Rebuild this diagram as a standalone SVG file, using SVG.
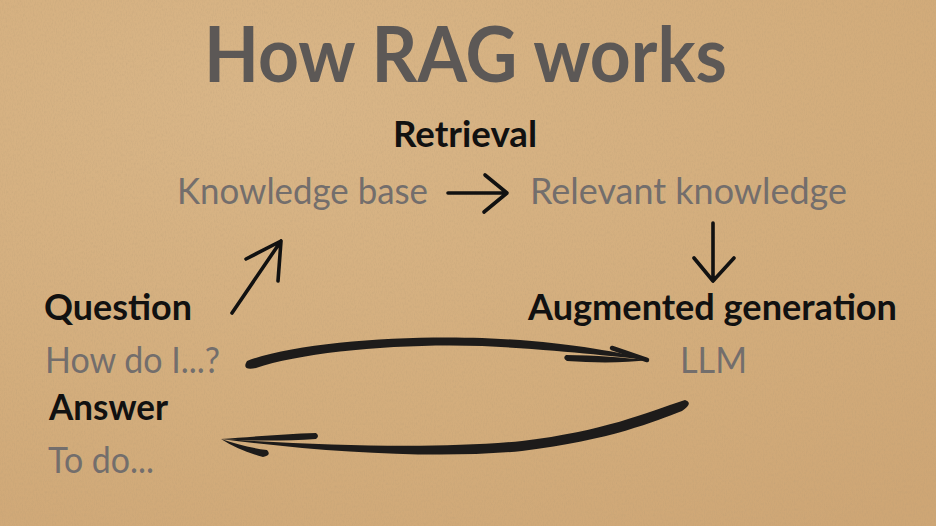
<svg xmlns="http://www.w3.org/2000/svg" width="936" height="526" viewBox="0 0 936 526">
  <defs>
    <radialGradient id="bgGrad" cx="0.3" cy="0.2" r="1">
      <stop offset="0" stop-color="#d9b688"/>
      <stop offset="0.6" stop-color="#d3ad7c"/>
      <stop offset="1" stop-color="#cea675"/>
    </radialGradient>
    <filter id="grain" x="0" y="0" width="100%" height="100%">
      <feTurbulence type="fractalNoise" baseFrequency="0.9 0.35" numOctaves="3" seed="7" result="n"/>
      <feColorMatrix type="matrix" values="0 0 0 0 0.45  0 0 0 0 0.32  0 0 0 0 0.18  0 0 0 0.9 -0.38"/>
    </filter>
  </defs>
  <style>
    .title { font-family: Lato, "Open Sans", "Liberation Sans", sans-serif; font-weight: 700; font-size: 76px; fill: #5c5856; }
    .head  { font-family: Lato, "Open Sans", "Liberation Sans", sans-serif; font-weight: 700; font-size: 37px; fill: #111111; }
    .body  { font-family: Lato, "Open Sans", "Liberation Sans", sans-serif; font-weight: 400; font-size: 37px; fill: #736e6c; }
    .pen   { fill: none; stroke: #111111; stroke-width: 3.6; stroke-linecap: round; stroke-linejoin: round; }
    .brush { fill: #1d1b1a; }
    .brushline { fill: none; stroke: #1d1b1a; stroke-linecap: round; stroke-linejoin: round; }
  </style>

  <rect x="0" y="0" width="936" height="526" fill="url(#bgGrad)"/>
  <rect x="0" y="0" width="936" height="526" filter="url(#grain)" opacity="0.5"/>

  <text class="title" x="204" y="82" textLength="523" lengthAdjust="spacingAndGlyphs">How RAG works</text>

  <g id="retrieval">
    <text class="head" x="393" y="147" textLength="144" lengthAdjust="spacingAndGlyphs">Retrieval</text>
  </g>
  <g id="knowledge-base">
    <text class="body" x="177" y="204" textLength="251" lengthAdjust="spacingAndGlyphs">Knowledge base</text>
  </g>
  <g id="relevant-knowledge">
    <text class="body" x="530" y="204" textLength="317" lengthAdjust="spacingAndGlyphs">Relevant knowledge</text>
  </g>
  <g id="question">
    <text class="head" x="44" y="320" textLength="148" lengthAdjust="spacingAndGlyphs">Question</text>
    <text class="body" x="45" y="373" textLength="175" lengthAdjust="spacingAndGlyphs">How do I...?</text>
  </g>
  <g id="augmented-generation">
    <text class="head" x="528" y="320" textLength="369" lengthAdjust="spacingAndGlyphs">Augmented generation</text>
    <text class="body" x="680" y="373" textLength="67" lengthAdjust="spacingAndGlyphs">LLM</text>
  </g>
  <g id="answer">
    <text class="head" x="49" y="420" textLength="119" lengthAdjust="spacingAndGlyphs">Answer</text>
    <text class="body" x="48" y="473" textLength="106" lengthAdjust="spacingAndGlyphs">To do...</text>
  </g>

  <g id="connectors">
    <!-- Knowledge base -> Relevant knowledge -->
    <path class="pen" d="M448,193 L507,193 M485,175 L507,193 L484,212"/>
    <!-- Relevant knowledge -> Augmented generation -->
    <path class="pen" d="M713,223 L713,281 M694,258 L713,281 L734,258"/>
    <!-- Question -> Knowledge base -->
    <path class="pen" d="M232,313 L281,241 M246,259 L281,241 L278,281"/>
    <!-- Question -> LLM brush arrow -->
    <path class="brush" d="M247,361 C292,343 400,335 482,338 C560,341 620,352 649,360 C620,357 560,350 482,346 C400,343 302,352 256,368 Q241,371 247,361 Z"/>
    <path class="brushline" stroke-width="4.5" d="M612,348 L647,360"/>
    <path class="brush" d="M566,355 C595,355 625,358 649,360 C625,363 595,363 567,361 Q562,358 566,355 Z"/>
    <!-- LLM -> Answer brush arrow -->
    <path class="brush" d="M685,400 C645,413 605,431 522,441 C440,449 330,446 221,439 C330,453 440,459 522,451 C612,440 655,421 682,411 Q694,403 685,400 Z"/>
    <path class="brush" d="M316,433 C285,434 250,437 221,439 C250,441 285,441 316,439 Q320,436 316,433 Z"/>
    <path class="brush" d="M221,439 C236,444 251,448 267,450 Q272,455 263,457 C248,453 233,447 221,439 Z"/>
  </g>
</svg>
